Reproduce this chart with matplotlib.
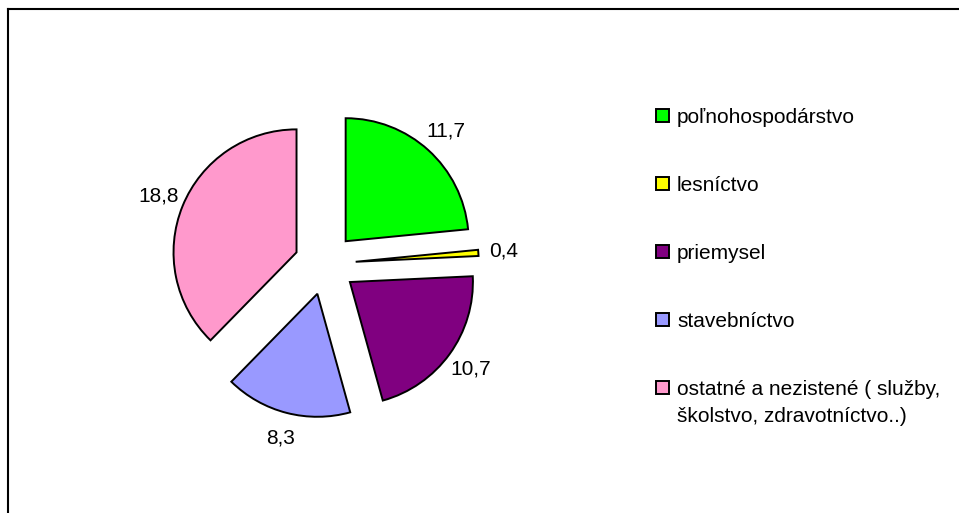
import matplotlib
matplotlib.use("Agg")
import matplotlib.pyplot as plt
from matplotlib.patches import Patch
from matplotlib.lines import Line2D

plt.rcParams['font.family'] = ['Liberation Sans', 'DejaVu Sans']

categories = ["poľnohospodárstvo", "lesníctvo", "priemysel", "stavebníctvo",
              "ostatné a nezistené ( služby,"]
last_label_cont = "školstvo, zdravotníctvo..)"
values = [11.7, 0.4, 10.7, 8.3, 18.8]
colors = ["#00FF00", "#FFFF00", "#800080", "#9999FF", "#FF99CC"]
value_labels = [f"{v:.1f}".replace(".", ",") for v in values]

W, H = 959, 513
FS = 15
fig = plt.figure(figsize=(W / 100, H / 100), dpi=100)

# axes placement: pie centre at (325, 264) px, radius 123 px
lim = 1.6
r_px = 123
side = 2 * lim * r_px
cx, cy = 325, H - 264
ax = fig.add_axes([(cx - side / 2) / W, (cy - side / 2) / H, side / W, side / H])

wedges, texts = ax.pie(values, colors=colors, startangle=90, counterclock=False,
                       explode=[0.25] * len(values), labels=value_labels,
                       labeldistance=1.21,
                       wedgeprops=dict(edgecolor="black", linewidth=1.4),
                       textprops=dict(fontsize=FS))
for t in texts:
    t.set_ha("center")
    t.set_va("center")
ax.set_xlim(-lim, lim)
ax.set_ylim(-lim, lim)
ax.set_aspect("equal")
ax.axis("off")

handles = [Patch(facecolor=c, edgecolor="black", linewidth=1.4) for c in colors]
leg = fig.legend(handles, categories, loc="upper left",
                 bbox_to_anchor=(656 / W, 1 - 108 / H), frameon=False,
                 fontsize=FS, handlelength=0.625, handleheight=0.625,
                 handletextpad=0.385, labelspacing=2.35, borderpad=0,
                 borderaxespad=0)

# second line of the last legend entry, placed under its first line
fig.canvas.draw()
last = leg.get_texts()[-1]
bb = last.get_window_extent()
fig.text(bb.x0 / W, (bb.y0 - 8) / H, last_label_cont, fontsize=FS,
         ha="left", va="top")

# chart frame (top and left edges visible)
fig.add_artist(Line2D([8 / W, 8 / W], [0, 1 - 9 / H], color="black", lw=1.5,
                      transform=fig.transFigure))
fig.add_artist(Line2D([8 / W, 1], [1 - 9 / H, 1 - 9 / H], color="black", lw=1.5,
                      transform=fig.transFigure))

fig.savefig("out.png", dpi=100, facecolor="white")
